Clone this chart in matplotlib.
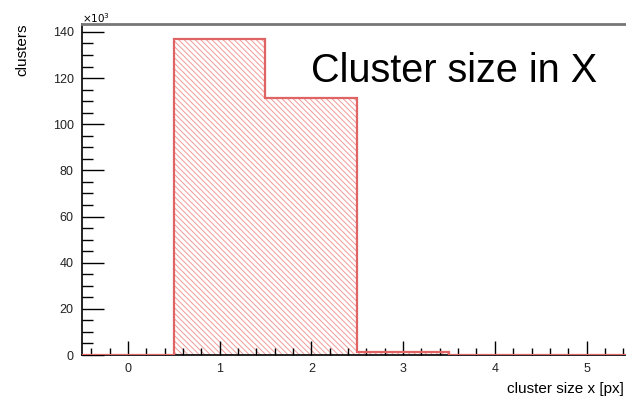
"""
Histogram of cluster size along X, drawn in a ROOT-like style.
"""

import matplotlib
matplotlib.use("Agg")
import numpy as np
import matplotlib.pyplot as plt
from matplotlib.ticker import MultipleLocator

plt.rcParams["font.family"] = ["Liberation Sans", "DejaVu Sans"]
plt.rcParams["hatch.linewidth"] = 0.7

# bin edges [px] and counts per bin (in units of 10^3 clusters)
BIN_EDGES = [-0.5, 0.5, 1.5, 2.5, 3.5, 4.5, 5.5, 6.5]
COUNTS_K = [0.0, 137.0, 111.3, 1.5, 0.2, 0.1, 0.0]

TITLE = "Cluster size in X"
X_LABEL = "cluster size x [px]"
Y_LABEL = "clusters"

LINE_COLOR = "#e06464"
HATCH_COLOR = "#f09a9a"


def plot_cluster_size() -> None:
    fig = plt.figure(figsize=(6.26, 3.98), dpi=100)
    ax = fig.add_axes([0.131, 0.108, 0.869, 0.832])

    # hatched fill, then the outline on top of the axis lines
    ax.stairs(COUNTS_K, BIN_EDGES, fill=True, facecolor="none",
              edgecolor=HATCH_COLOR, hatch="\\" * 6, linewidth=0)
    ax.stairs(COUNTS_K, BIN_EDGES, color=LINE_COLOR, linewidth=1.6,
              zorder=3)

    ax.set_xlim(-0.5, 5.43)
    ax.set_ylim(0, 143.5)

    ax.xaxis.set_major_locator(MultipleLocator(1))
    ax.xaxis.set_minor_locator(MultipleLocator(0.2))
    ax.yaxis.set_major_locator(MultipleLocator(20))
    ax.yaxis.set_minor_locator(MultipleLocator(5))

    ax.tick_params(axis="both", which="both", direction="in",
                   labelsize=9, colors="black", width=1.0)
    ax.tick_params(axis="y", which="major", length=16, pad=6)
    ax.tick_params(axis="y", which="minor", length=8)
    ax.tick_params(axis="x", which="major", length=10, pad=6)
    ax.tick_params(axis="x", which="minor", length=5)
    ax.tick_params(labelcolor="#222222")

    ax.spines["right"].set_visible(False)
    ax.spines["top"].set_color("#777777")
    ax.spines["top"].set_linewidth(2.0)
    ax.spines["left"].set_linewidth(1.2)
    ax.spines["bottom"].set_linewidth(1.2)

    ax.text(0.0, 0.997, r"$\times10^{3}$", transform=ax.transAxes,
            fontsize=7.5, ha="left", va="bottom")

    fig.text(0.035, 0.94, Y_LABEL, rotation=90, ha="center", va="top",
             fontsize=11)
    fig.text(0.997, 0.004, X_LABEL, ha="right", va="bottom", fontsize=11)

    ax.text(0.947, 0.857, TITLE, transform=ax.transAxes, ha="right",
            va="center", fontsize=28.5)

    fig.savefig("out.png", dpi=100)
    plt.close(fig)


if __name__ == "__main__":
    plot_cluster_size()
